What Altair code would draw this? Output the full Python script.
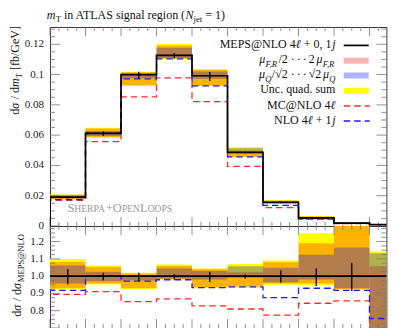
import altair as alt
import pandas as pd
import numpy as np

# ---------------- data ----------------
bin_lo = [0, 1, 2, 3, 4, 5, 6, 7, 8, 9]
bin_hi = [1, 2, 3, 4, 5, 6, 7, 8, 9, 10]
x_max = 9.475

# MEPS@NLO 4l+0,1j  dsigma/dmT [fb/GeV]
meps = [0.0190, 0.0612, 0.1000, 0.1127, 0.0992, 0.0486, 0.0156, 0.0053, 0.0019, 0.0010]
# ratios to MEPS@NLO
r_nlo1j = [0.918, 1.002, 0.971, 0.979, 0.933, 0.938, 0.876, 0.930, 0.918, 0.755]
r_mcnlo = [0.895, 0.910, 0.853, 0.868, 0.828, 0.810, 0.775, 0.843, 0.857, 0.600]
# uncertainty bands (ratio units)
quad_lo = [0.924, 0.952, 0.924, 0.978, 0.930, 0.933, 0.950, 0.947, 0.918, 0.600]
quad_hi = [1.099, 1.061, 1.019, 1.067, 1.044, 1.070, 1.090, 1.248, 1.400, 1.143]
scale_lo = [0.930, 0.958, 0.930, 0.983, 0.936, 0.940, 0.958, 0.958, 0.925, 0.600]
scale_hi = [1.082, 1.053, 1.015, 1.058, 1.040, 1.023, 1.080, 1.190, 1.380, 1.057]
res_lo = [0.958, 0.971, 0.975, 0.985, 0.980, 0.990, 0.965, 0.981, 0.930, 0.600]
res_hi = [1.061, 1.025, 1.005, 1.044, 1.029, 1.057, 1.048, 1.124, 1.166, 1.133]
# statistical error bars (ratio units)
err_lo = [0.952, 0.975, 0.971, 0.981, 0.966, 0.985, 0.962, 0.943, 0.914, np.nan]
err_hi = [1.040, 1.019, 1.019, 1.013, 1.025, 1.010, 1.032, 1.044, 1.076, np.nan]

main_labels = [0, 0.02, 0.04, 0.06, 0.08, 0.10, 0.12]
main_label_text = ["0", "0.02", "0.04", "0.06", "0.08", "0.1", "0.12"]
ratio_labels = [0.8, 0.9, 1.0, 1.1, 1.2]
ratio_label_text = ["0.8", "0.9", "1.0", "1.1", "1.2"]

# ---------------- styling / layout ----------------
SERIF = "Liberation Serif"
W, H1, H2 = 336.4, 199, 102
TICK = "#777777"
xs = alt.Scale(domain=[0, x_max], nice=False, zero=False)
ys1 = alt.Scale(domain=[0, 0.1314], nice=False, zero=False)
ys2 = alt.Scale(domain=[0.70, 1.29], nice=False, zero=False)

REG = {' ': 250, '!': 333, '(': 333, ')': 333, ',': 250, '.': 250, '/': 278, '=': 564, '+': 564,
       '@': 921, '[': 333, ']': 333, '·': 250, '√': 549, 'σ': 550, 'μ': 500, 'ℓ': 420,
       'A': 722, 'B': 667, 'C': 667, 'D': 722, 'E': 611, 'F': 556, 'G': 722, 'H': 722, 'I': 333,
       'J': 389, 'K': 722, 'L': 611, 'M': 889, 'N': 722, 'O': 722, 'P': 556, 'Q': 722, 'R': 667,
       'S': 556, 'T': 611, 'U': 722, 'V': 722, 'W': 944, 'X': 722, 'Y': 722, 'Z': 611,
       'a': 444, 'b': 500, 'c': 444, 'd': 500, 'e': 444, 'f': 333, 'g': 500, 'h': 500, 'i': 278,
       'j': 278, 'k': 500, 'l': 278, 'm': 778, 'n': 500, 'o': 500, 'p': 500, 'q': 500, 'r': 333,
       's': 389, 't': 278, 'u': 500, 'v': 500, 'w': 722, 'x': 500, 'y': 500, 'z': 444}
IT = dict(REG)
IT.update({'m': 722, 'N': 667, 'Q': 722, 'F': 611, 'R': 611})
KERN = {'AT': -111, 'LT': -92, 'TA': -93}


def seg_w(t, st, f):
    tab = IT if 'i' in st else REG
    w = sum(tab.get(c, 500) for c in t)
    w += sum(KERN.get(t[k:k + 2], 0) for k in range(len(t) - 1))
    return w * f / 1000.0


def layout(segs, x, y, fs, anchor='start', rotate=False, color='#111111'):
    items = []
    for s in segs:
        t, st = s[0], s[1]
        f = s[2] if len(s) > 2 and s[2] else (fs * 0.72 if st.startswith('s') else fs)
        gap = s[3] if len(s) > 3 else 0.0
        items.append((t, st, f, seg_w(t, st, f) + gap, gap))
    total = sum(it[3] for it in items)
    pos = 0.0 if anchor == 'start' else -total
    rows = []
    for t, st, f, w, gap in items:
        lead = (len(t) - len(t.lstrip(' '))) * 250 * f / 1000.0
        shown = t.strip(' ')
        p = pos + lead + gap
        drop = 0.28 * fs if st.startswith('s') else 0.0
        if shown:
            if rotate:
                rows.append(dict(px=x + drop, py=y - p, txt=shown, fs=f, it='i' in st, rot=True, col=color))
            else:
                rows.append(dict(px=x + p, py=y + drop, txt=shown, fs=f, it='i' in st, rot=False, col=color))
        pos += w
    return rows


def text_layers(rows):
    df = pd.DataFrame(rows)
    out = []
    for rot in (False, True):
        for it in (False, True):
            sub = df[(df.rot == rot) & (df.it == it)]
            if len(sub) == 0:
                continue
            kw = dict(align='left', baseline='alphabetic', font=SERIF)
            if it:
                kw['fontStyle'] = 'italic'
            if rot:
                kw['angle'] = 270
            out.append(alt.Chart(sub).mark_text(**kw).encode(
                x=alt.X('px:Q', scale=None, axis=None),
                y=alt.Y('py:Q', scale=None, axis=None),
                text='txt:N',
                size=alt.Size('fs:Q', scale=None, legend=None),
                color=alt.Color('col:N', scale=None, legend=None)))
    return out


def steps(vals, start):
    xv, yv = [bin_lo[0]], [start]
    for lo, hi, v in zip(bin_lo, bin_hi, vals):
        xv += [lo, hi]
        yv += [v, v]
    return pd.DataFrame({'x': xv, 'y': yv, 'i': range(len(xv))})


def tick_layers(ys, H, major_y, minor_y):
    out = []
    major_x = [float(v) for v in range(0, 10)]
    minor_x = [v for v in np.round(np.arange(0, x_max, 0.25), 3) if abs(v - round(v)) > 1e-6]
    for vals, L in ((major_y, 10), (minor_y, 5)):
        d = alt.Chart(pd.DataFrame({'v': vals}))
        out.append(d.mark_rule(color=TICK, strokeWidth=0.8).encode(
            y=alt.Y('v:Q', scale=ys, axis=None), x=alt.value(0), x2=alt.value(L)))
        out.append(d.mark_rule(color=TICK, strokeWidth=0.8).encode(
            y=alt.Y('v:Q', scale=ys, axis=None), x=alt.value(W - L), x2=alt.value(W)))
    for vals, L in ((major_x, 9), (minor_x, 4)):
        d = alt.Chart(pd.DataFrame({'v': vals}))
        out.append(d.mark_rule(color=TICK, strokeWidth=0.8).encode(
            x=alt.X('v:Q', scale=xs, axis=None), y=alt.value(0), y2=alt.value(L)))
        out.append(d.mark_rule(color=TICK, strokeWidth=0.8).encode(
            x=alt.X('v:Q', scale=xs, axis=None), y=alt.value(H - L), y2=alt.value(H)))
    return out


def label_layer(vals, texts, ys):
    return alt.Chart(pd.DataFrame({'v': vals, 'lab': texts})).mark_text(
        align='right', baseline='middle', font=SERIF, fontSize=11, color='#222222').encode(
        y=alt.Y('v:Q', scale=ys, axis=None), x=alt.value(-6), text='lab:N')


def panel(norm, ys, H, starts, major_y, minor_y):
    layers = []
    for lo_r, hi_r, col, op in (
            (quad_lo, quad_hi, '#FFFF00', 1.0),
            (scale_lo, scale_hi, '#FF0000', 0.3),
            (res_lo, res_hi, '#0000FF', 0.3)):
        df = pd.DataFrame({'x0': bin_lo, 'x1': bin_hi,
                           'lo': [a * s for a, s in zip(lo_r, norm)],
                           'hi': [a * s for a, s in zip(hi_r, norm)]})
        layers.append(alt.Chart(df).mark_rect(color=col, opacity=op, clip=True).encode(
            x=alt.X('x0:Q', scale=xs, axis=None), x2='x1:Q',
            y=alt.Y('lo:Q', scale=ys, axis=None), y2='hi:Q'))
    layers += tick_layers(ys, H, major_y, minor_y)
    series = (
        ([a * s for a, s in zip(r_mcnlo, norm)], '#ff2a2a', [6.5, 4], 1.3, starts[0]),
        ([a * s for a, s in zip(r_nlo1j, norm)], '#1a1aff', [6.5, 4], 1.3, starts[1]),
        ([a * s for a, s in zip([1.0] * len(norm), norm)], '#000000', None, 1.7, starts[2]),
    )
    for vals, col, dash, sw, st in series:
        kw = dict(color=col, strokeWidth=sw, clip=True)
        if dash:
            kw['strokeDash'] = dash
        layers.append(alt.Chart(steps(vals, st)).mark_line(**kw).encode(
            x=alt.X('x:Q', scale=xs, axis=None), y=alt.Y('y:Q', scale=ys, axis=None),
            order=alt.Order('i:Q')))
    edf = pd.DataFrame({'xc': [(a + b) / 2 for a, b in zip(bin_lo, bin_hi)],
                        'lo': [a * s for a, s in zip(err_lo, norm)],
                        'hi': [a * s for a, s in zip(err_hi, norm)]}).dropna()
    layers.append(alt.Chart(edf).mark_rule(color='#000000', strokeWidth=1.3, clip=True).encode(
        x=alt.X('xc:Q', scale=xs, axis=None), y=alt.Y('lo:Q', scale=ys, axis=None), y2='hi:Q'))
    return layers


main_major = [round(v, 3) for v in np.arange(0, 0.1315, 0.02)]
main_minor = [round(v, 4) for v in np.arange(0, 0.1315, 0.005) if round(v / 0.02, 6) % 1 != 0]
ratio_major = [round(v, 3) for v in np.arange(0.7, 1.291, 0.1)]
ratio_minor = [round(v, 4) for v in np.arange(0.7, 1.291, 0.025)
               if abs(round(v * 10, 6) - round(v * 10)) > 1e-6]

top_layers = panel(meps, ys1, H1, (0.0, 0.0, 0.0), main_major, main_minor)
top_layers.append(label_layer(main_labels, main_label_text, ys1))
bot_layers = panel([1.0] * len(meps), ys2, H2, (0.0, 0.0, 1.0), ratio_major, ratio_minor)
bot_layers.append(label_layer(ratio_labels, ratio_label_text, ys2))

# ---------------- legend (manual, right aligned text, swatch on right) ----------------
one = alt.Chart(pd.DataFrame({'a': [0]}))
SX0, SX1 = 293.7, 318.7
top_layers.append(one.mark_rule(color='#000000', strokeWidth=1.7).encode(
    x=alt.value(SX0), x2=alt.value(SX1), y=alt.value(18.4)))
for (y0, y1), col, op in (((30.7, 36.7), '#FF0000', 0.3), ((45.5, 51.5), '#0000FF', 0.3),
                         ((60.8, 66.8), '#FFFF00', 1.0)):
    top_layers.append(one.mark_rect(color=col, opacity=op).encode(
        x=alt.value(SX0), x2=alt.value(SX1), y=alt.value(y0), y2=alt.value(y1)))
top_layers.append(one.mark_rule(color='#ff2a2a', strokeWidth=1.3, strokeDash=[6.5, 4]).encode(
    x=alt.value(SX0), x2=alt.value(SX1 + 1), y=alt.value(79)))
top_layers.append(one.mark_rule(color='#1a1aff', strokeWidth=1.3, strokeDash=[6.5, 4]).encode(
    x=alt.value(SX0), x2=alt.value(SX1 + 1), y=alt.value(94)))

TX = 285.5
rows = []
rows += layout([('MEPS@NLO 4', 'n'), ('ℓ', 'i'), (' + 0, 1', 'n'), ('j', 'i', None, 0.6)], TX, 20.7, 12, 'end')
rows += layout([('μ', 'i'), ('F,R', 'si', None, 0.3), ('/2', 'n', None, 0.3), (' ·', 'n'), (' ·', 'n'),
                (' ·', 'n'), (' 2', 'n'), ('μ', 'i', None, 1.6), ('F,R', 'si', None, 0.3)],
               TX, 36.3, 12, 'end')
rows += layout([('μ', 'i'), ('Q', 'si', None, 0.3), ('/', 'n', None, 0.3), ('√', 'n'), ('2', 'n'),
                (' ·', 'n'), (' ·', 'n'), (' ·', 'n'), (' √', 'n'), ('2', 'n'),
                ('μ', 'i', None, 1.6), ('Q', 'si', None, 0.3)], TX, 51.3, 12, 'end')
rows += layout([('Unc. quad. sum', 'n')], TX, 66.3, 12, 'end')
rows += layout([('MC@NLO 4', 'n'), ('ℓ', 'i')], TX, 81.5, 12, 'end')
rows += layout([('NLO 4', 'n'), ('ℓ', 'i'), (' + 1', 'n'), ('j', 'i', None, 0.6)], TX, 96.7, 12, 'end')
# title
rows += layout([('m', 'i'), ('T', 'sn', None, 0.3), (' in ATLAS signal region (', 'n'), ('N', 'i', None, -0.4),
                ('jet', 'sn'), (' = 1)', 'n')], -3.3, -8, 12, 'start')
# watermark
rows += layout([('S', 'n', 12.5), ('HERPA', 'n', 9.6), ('+', 'n', 12.5), ('O', 'n', 12.5),
                ('PEN', 'n', 9.6), ('L', 'n', 12.5), ('OOPS', 'n', 9.6)], 17.4, 185.5, 12,
               'start', color='#9a9a9a')
# y title
rows += layout([('d', 'n'), ('σ', 'i'), (' / d', 'n'), ('m', 'i'), ('T', 'sn'), (' [fb/GeV]', 'n')],
               -31.3, -1, 12, 'end', rotate=True)
top_layers += text_layers(rows)

rrows = layout([('d', 'n'), ('σ', 'i'), (' / d', 'n'), ('σ', 'i'), ('MEPS@NLO', 'sn')],
               -29, 8, 12, 'end', rotate=True)
bot_layers += text_layers(rrows)

top = alt.layer(*top_layers).properties(width=W, height=H1)
bot = alt.layer(*bot_layers).properties(width=W, height=H2)

chart = alt.VConcatChart(vconcat=[top, bot], spacing=0, bounds='flush').properties(
    padding={'left': 0, 'top': 0, 'right': 2, 'bottom': 0},
    background='white'
).configure_view(stroke='#3a3a3a', strokeWidth=1)

chart.save("out.html", embed_options={"renderer": "svg", "actions": False})
